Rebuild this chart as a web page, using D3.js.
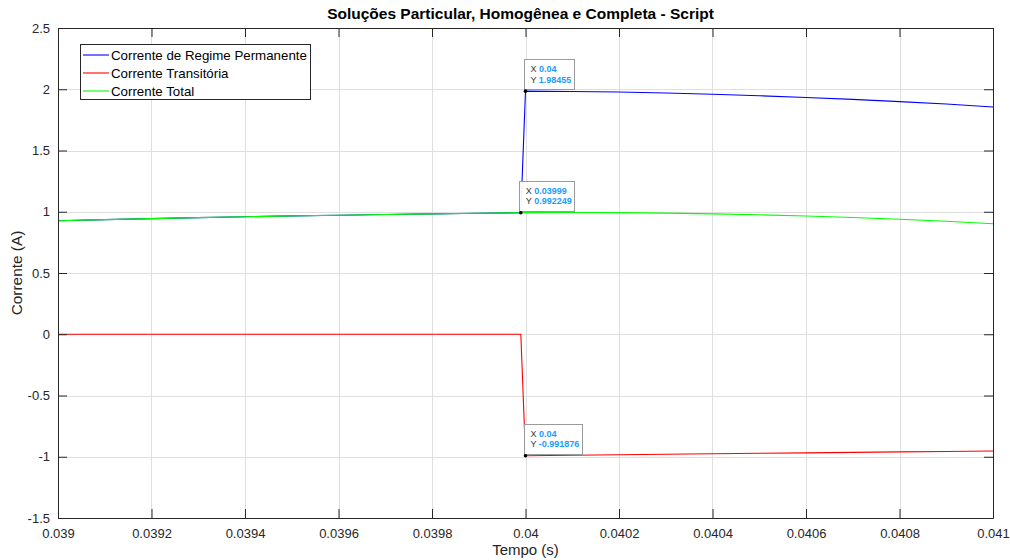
<!DOCTYPE html>
<html>
<head>
<meta charset="utf-8">
<script src="https://cdn.jsdelivr.net/npm/d3@7"></script>
<style>
  html, body { margin: 0; padding: 0; background: #ffffff; }
  svg { display: block; font-family: "Liberation Sans", Arial, Helvetica, sans-serif; }
</style>
</head>
<body>
<svg id="chart" width="1010" height="560"></svg>
<script>
// Time samples (s)
const time = [0.039, 0.0391, 0.0392, 0.0393, 0.0394, 0.0395, 0.0396, 0.0397, 0.0398, 0.0399, 0.03999,
              0.04, 0.0401, 0.0402, 0.0403, 0.0404, 0.0405, 0.0406, 0.0407, 0.0408, 0.0409, 0.041];
// Steady-state (particular) current
const steady = [0.927, 0.936, 0.944, 0.952, 0.959, 0.966, 0.972, 0.978, 0.983, 0.988, 0.992249,
                1.98455, 1.982, 1.977, 1.969, 1.959, 1.947, 1.933, 1.917, 1.899, 1.879, 1.855];
// Transient (homogeneous) current
const transient = [0, 0, 0, 0, 0, 0, 0, 0, 0, 0, 0,
                   -0.991876, -0.988, -0.984, -0.980, -0.976, -0.972, -0.968, -0.964, -0.960, -0.957, -0.953];
// Total (complete) current
const total = [0.927, 0.936, 0.944, 0.952, 0.959, 0.966, 0.972, 0.978, 0.983, 0.988, 0.992249,
               0.992674, 0.994, 0.993, 0.989, 0.983, 0.975, 0.965, 0.953, 0.939, 0.922, 0.902];

const seriesNames = ["Corrente de Regime Permanente", "Corrente Transitória", "Corrente Total"];
const seriesColors = ["#0000ff", "#ff0000", "#00ff00"];

const xTicks = [0.039, 0.0392, 0.0394, 0.0396, 0.0398, 0.04, 0.0402, 0.0404, 0.0406, 0.0408, 0.041];
const xTickLabels = ["0.039", "0.0392", "0.0394", "0.0396", "0.0398", "0.04", "0.0402", "0.0404", "0.0406", "0.0408", "0.041"];
const yTicks = [-1.5, -1, -0.5, 0, 0.5, 1, 1.5, 2, 2.5];
const yTickLabels = ["-1.5", "-1", "-0.5", "0", "0.5", "1", "1.5", "2", "2.5"];

// Data tips: sample index and series index
const tipIndex = [11, 10, 11];
const tipSeries = [0, 2, 1];
const tipXText = ["0.04", "0.03999", "0.04"];
const tipYText = ["1.98455", "0.992249", "-0.991876"];

const titleText = "Soluções Particular, Homogênea e Completa - Script";
const xLabel = "Tempo (s)";
const yLabel = "Corrente (A)";

const svg = d3.select("#chart");
const pLeft = 58, pRight = 993, pTop = 28, pBottom = 518;
const axisColor = "#262626";

const x = d3.scaleLinear().domain([0.039, 0.041]).range([pLeft, pRight]);
const y = d3.scaleLinear().domain([-1.5, 2.5]).range([pBottom, pTop]);

// grid
const grid = svg.append("g").attr("stroke", "#dfdfdf").attr("stroke-width", 1);
grid.selectAll("line.vx").data(xTicks).join("line")
  .attr("x1", d => Math.round(x(d)) + 0.5).attr("x2", d => Math.round(x(d)) + 0.5)
  .attr("y1", pTop).attr("y2", pBottom);
grid.selectAll("line.hy").data(yTicks).join("line")
  .attr("y1", d => Math.round(y(d)) + 0.5).attr("y2", d => Math.round(y(d)) + 0.5)
  .attr("x1", pLeft).attr("x2", pRight);

// series lines
svg.append("clipPath").attr("id", "plotclip").append("rect")
  .attr("x", pLeft).attr("y", pTop).attr("width", pRight - pLeft).attr("height", pBottom - pTop);

const allSeries = [steady, transient, total];
const line = d3.line().x((d, i) => x(time[i])).y(d => y(d));
const plot = svg.append("g").attr("clip-path", "url(#plotclip)");
allSeries.forEach((vals, s) => {
  plot.append("path").datum(vals)
    .attr("fill", "none").attr("stroke", seriesColors[s]).attr("stroke-width", 1.1)
    .attr("d", line);
});

// axes (box with inward ticks on all sides)
const tickLen = 9;
const xAxisB = d3.axisBottom(x).tickValues(xTicks).tickFormat((d, i) => xTickLabels[i]).tickSizeInner(-tickLen).tickSizeOuter(0).tickPadding(11);
const xAxisT = d3.axisTop(x).tickValues(xTicks).tickFormat("").tickSizeInner(-tickLen).tickSizeOuter(0);
const yAxisL = d3.axisLeft(y).tickValues(yTicks).tickFormat((d, i) => yTickLabels[i]).tickSizeInner(-tickLen).tickSizeOuter(0).tickPadding(8);
const yAxisR = d3.axisRight(y).tickValues(yTicks).tickFormat("").tickSizeInner(-tickLen).tickSizeOuter(0);

function styleAxis(g) {
  g.select(".domain").attr("stroke", axisColor);
  g.selectAll(".tick line").attr("stroke", axisColor);
  g.selectAll(".tick text").attr("fill", axisColor).style("font-size", "13px")
    .style("font-family", "'Liberation Sans', Arial, Helvetica, sans-serif");
}
svg.append("g").attr("transform", `translate(0,${pBottom})`).call(xAxisB).call(styleAxis);
svg.append("g").attr("transform", `translate(0,${pTop})`).call(xAxisT).call(styleAxis);
svg.append("g").attr("transform", `translate(${pLeft},0)`).call(yAxisL).call(styleAxis);
svg.append("g").attr("transform", `translate(${pRight},0)`).call(yAxisR).call(styleAxis);

// title and axis labels
svg.append("text").attr("x", (pLeft + pRight) / 2 - 5).attr("y", 18.5).attr("text-anchor", "middle")
  .attr("fill", "#000").style("font-size", "15.5px").style("font-weight", "bold").text(titleText);
svg.append("text").attr("x", (pLeft + pRight) / 2).attr("y", 555).attr("text-anchor", "middle")
  .attr("fill", axisColor).style("font-size", "15px").text(xLabel);
svg.append("text").attr("transform", `translate(22,${(pTop + pBottom) / 2}) rotate(-90)`).attr("text-anchor", "middle")
  .attr("fill", axisColor).style("font-size", "15.4px").text(yLabel);

// legend
const lg = svg.append("g");
lg.append("rect").attr("x", 80.5).attr("y", 44.5).attr("width", 230).attr("height", 55)
  .attr("fill", "#fff").attr("stroke", "#262626").attr("stroke-width", 1);
seriesNames.forEach((name, i) => {
  const yy = 55 + i * 18;
  lg.append("line").attr("x1", 83).attr("x2", 109).attr("y1", yy).attr("y2", yy)
    .attr("stroke", seriesColors[i]).attr("stroke-width", 1.1);
  lg.append("text").attr("x", 111).attr("y", yy + 4.7).attr("fill", "#000")
    .style("font-size", "13.3px").text(name);
});

// data tips
tipIndex.forEach((idx, k) => {
  const px = x(time[idx]);
  const py = y(allSeries[tipSeries[k]][idx]);
  const g = svg.append("g");
  const box = g.append("rect").attr("fill", "#ffffff").attr("fill-opacity", 0.95)
    .attr("stroke", "#9a9a9a").attr("stroke-width", 1);
  const t1 = g.append("text").attr("x", px + 5).attr("y", py - 19).style("font-size", "9px");
  t1.append("tspan").attr("fill", "#333").text("X ");
  t1.append("tspan").attr("fill", "#1a9bff").style("font-weight", "bold").text(tipXText[k]);
  const t2 = g.append("text").attr("x", px + 5).attr("y", py - 8.5).style("font-size", "9px");
  t2.append("tspan").attr("fill", "#333").text("Y ");
  t2.append("tspan").attr("fill", "#1a9bff").style("font-weight", "bold").text(tipYText[k]);
  const w = Math.max(t1.node().getComputedTextLength(), t2.node().getComputedTextLength()) + 9;
  box.attr("x", Math.round(px) - 1.5).attr("y", Math.round(py) - 31.5).attr("width", Math.round(w)).attr("height", 30);
  g.append("circle").attr("cx", px).attr("cy", py).attr("r", 1.8).attr("fill", "#000");
});
</script>
</body>
</html>
